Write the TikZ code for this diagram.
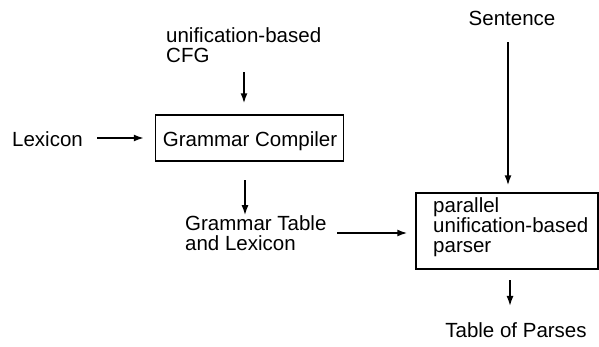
\documentclass[tikz,border=0pt]{standalone}
\usepackage{fontspec}
\setmainfont{Liberation Sans}
\usetikzlibrary{arrows.meta}
\begin{document}
\begin{tikzpicture}[x=1pt,y=-1pt,
  lbl/.style={inner sep=0pt,anchor=base west,align=left,font=\fontsize{20.5}{19.8}\selectfont},
  clbl/.style={inner sep=0pt,anchor=base,font=\fontsize{20.5}{19.8}\selectfont},
  boxed/.style={draw,line width=1.5pt,inner sep=0pt},
  arr/.style={line width=1.5pt,-{Latex[length=10pt,width=7pt]}}]
\useasboundingbox (0,0) rectangle (599,346);
% texts
\node[lbl] (cfg) at (166,62) {unification-based\\CFG};
\node[lbl] (lex) at (12,146) {Lexicon};
\node[boxed,minimum width=188pt,minimum height=46pt] (gc) at (249.5,138) {};
\node[clbl] (gctext) at (250,146) {Grammar Compiler};
\node[lbl] (gt) at (185,250) {Grammar Table\\and Lexicon};
\node[boxed,minimum width=182pt,minimum height=76pt] (par) at (507,231) {};
\node[lbl] (partext) at (433,252) {parallel\\unification-based\\parser};
\node[clbl] (sent) at (512,25) {Sentence};
\node[clbl] (tab) at (516,337) {Table of Parses};
% connector starting points
\coordinate (c1) at (244,72);
\coordinate (c2) at (97,138);
\coordinate (c3) at (245,180);
\coordinate (c4) at (337,233);
\coordinate (c5) at (508,42);
\coordinate (c6) at (510,280);
% connectors
\draw[arr,shorten >=11pt] (c1) -- (c1 |- gc.north);
\draw[arr,shorten >=11pt] (c2) -- (c2 -| gc.west);
\draw[arr] (c3) -- (c3 |- gt.north);
\draw[arr,shorten >=8pt] (c4) -- (c4 -| par.west);
\draw[arr,shorten >=7pt] (c5) -- (c5 |- par.north);
\draw[arr,shorten >=16pt] (c6) -- (c6 |- tab.north);
\end{tikzpicture}
\end{document}
